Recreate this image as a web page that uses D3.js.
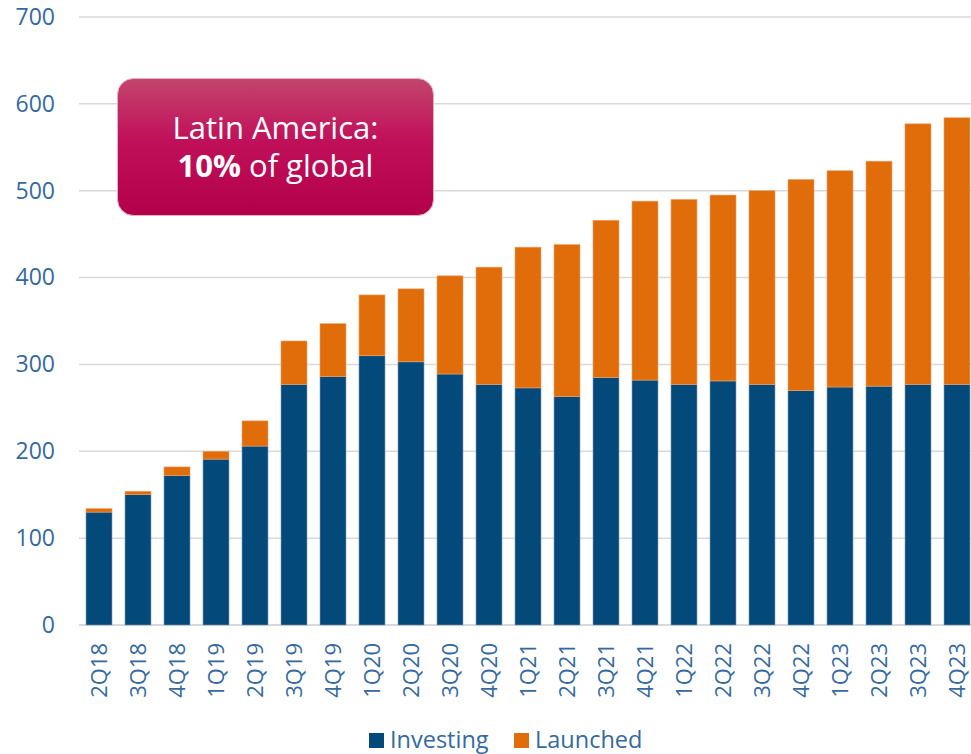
<!DOCTYPE html>
<html>
<head>
<meta charset="utf-8">
<script src="https://cdn.jsdelivr.net/npm/d3@7"></script>
<style>
  html, body { margin: 0; padding: 0; background: #fff; }
  svg { display: block; font-family: "Open Sans", sans-serif; }
</style>
</head>
<body>
<svg id="chart" width="971" height="754"></svg>
<script>
const categories = ["2Q18","3Q18","4Q18","1Q19","2Q19","3Q19","4Q19","1Q20","2Q20","3Q20","4Q20","1Q21","2Q21","3Q21","4Q21","1Q22","2Q22","3Q22","4Q22","1Q23","2Q23","3Q23","4Q23"];
const investing = [130,150,172,191,206,277,286,310,303,289,277,273,263,285,282,277,281,277,270,274,275,277,277];
const totals    = [134,154,182,200,235,327,347,380,387,402,412,435,438,466,488,490,495,500,513,523,534,577,584];
const launched  = totals.map((t, i) => t - investing[i]);
const yTicks = [0,100,200,300,400,500,600,700];
const seriesNames = ["Investing","Launched"];
const colors = {Investing: "#03497a", Launched: "#e06c0a"};
const textColor = "#3569a0";

const svg = d3.select("#chart");
const x = d3.scaleBand().domain(categories).range([79.5, 976.5]).paddingInner(1/3).paddingOuter(1/6);
const y = d3.scaleLinear().domain([0, 700]).range([625, 17]);

// gridlines
svg.append("g").selectAll("line").data(yTicks).join("line")
  .attr("x1", 79).attr("x2", 971)
  .attr("y1", d => y(d)).attr("y2", d => y(d))
  .attr("stroke", "#d9d9d9").attr("stroke-width", d => d === 0 ? 2 : 1.5);

// y labels
const yAxis = d3.axisLeft(y).tickValues(yTicks).tickSize(0).tickPadding(0);
const gy = svg.append("g").attr("transform", "translate(55,0)").call(yAxis);
gy.select(".domain").remove();
gy.selectAll("text").attr("fill", textColor).attr("font-size", "23px").attr("font-family", "Open Sans, sans-serif");

// stacked bars
const rows = categories.map((c, i) => ({cat: c, Investing: investing[i], Launched: launched[i]}));
const stack = d3.stack().keys(seriesNames)(rows);
svg.append("g").selectAll("g").data(stack).join("g")
  .attr("fill", d => colors[d.key])
  .attr("stroke", d => d.key === "Investing" ? "#7f9cba" : "#f2a368")
  .attr("stroke-width", 0.6)
  .selectAll("rect").data(d => d).join("rect")
  .attr("x", d => x(d.data.cat))
  .attr("width", x.bandwidth())
  .attr("y", d => y(d[1]))
  .attr("height", d => y(d[0]) - y(d[1]));

// x labels
const xAxis = d3.axisBottom(x).tickSize(0).tickPadding(0);
const gx = svg.append("g").attr("transform", "translate(0,643)").call(xAxis);
gx.select(".domain").remove();
gx.selectAll("text")
  .attr("fill", textColor).attr("font-size", "22px").attr("font-family", "Open Sans, sans-serif")
  .attr("text-anchor", "end").attr("dy", "0.36em").attr("y", 0).attr("x", 0)
  .attr("transform", "rotate(-90)");

// legend
const legend = svg.append("g");
const legendItems = [{name: "Investing", x: 369}, {name: "Launched", x: 514}];
legendItems.forEach(it => {
  legend.append("rect").attr("x", it.x).attr("y", 733).attr("width", 15).attr("height", 15).attr("fill", colors[it.name]);
  legend.append("text").attr("x", it.x + 21).attr("y", 748).attr("fill", textColor)
    .attr("font-size", "23.5px").text(it.name);
});

// annotation box
const defs = svg.append("defs");
const grad = defs.append("linearGradient").attr("id", "boxgrad").attr("x1", 0).attr("y1", 0).attr("x2", 0).attr("y2", 1);
grad.append("stop").attr("offset", "0%").attr("stop-color", "#c3456d");
grad.append("stop").attr("offset", "45%").attr("stop-color", "#c1105a");
grad.append("stop").attr("offset", "100%").attr("stop-color", "#b3004a");
svg.append("rect").attr("x", 117.5).attr("y", 78.5).attr("width", 316).attr("height", 137)
  .attr("rx", 16).attr("fill", "url(#boxgrad)").attr("stroke", "#e7b0c3").attr("stroke-width", 1);
svg.append("text").attr("x", 275.5).attr("y", 139).attr("text-anchor", "middle")
  .attr("fill", "#fff").attr("font-size", "31px").text("Latin America:");
const t2 = svg.append("text").attr("x", 275.5).attr("y", 177).attr("text-anchor", "middle")
  .attr("fill", "#fff").attr("font-size", "31px");
t2.append("tspan").attr("font-weight", "bold").text("10%");
t2.append("tspan").text(" of global");
</script>
</body>
</html>
